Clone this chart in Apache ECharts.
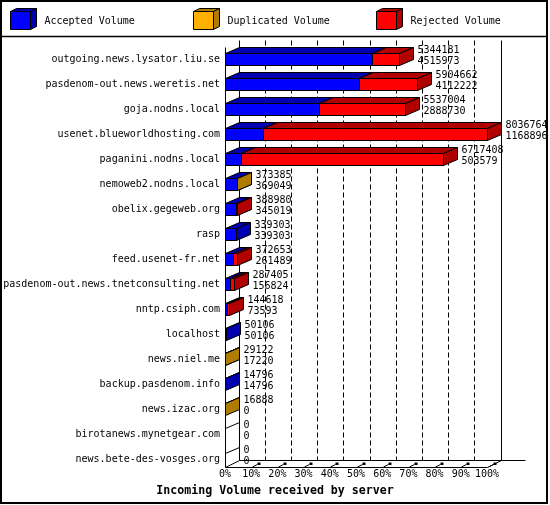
<!DOCTYPE html>
<html><head><meta charset="utf-8">
<script src="https://cdn.jsdelivr.net/npm/echarts@6/dist/echarts.min.js"></script>
<style>html,body{margin:0;padding:0;background:#fff}#c{width:550px;height:505px}</style>
</head><body><div id="c"></div>
<script>
const categories = [
  'outgoing.news.lysator.liu.se','pasdenom-out.news.weretis.net','goja.nodns.local',
  'usenet.blueworldhosting.com','paganini.nodns.local','nemoweb2.nodns.local',
  'obelix.gegeweb.org','rasp','feed.usenet-fr.net','pasdenom-out.news.tnetconsulting.net',
  'nntp.csiph.com','localhost','news.niel.me','backup.pasdenom.info','news.izac.org',
  'birotanews.mynetgear.com','news.bete-des-vosges.org'
];
const accepted   = [4515973,4112222,2888730,1168896,503579,369049,345019,339303,261489,156824,73593,50106,17220,14796,0,0,0];
const duplicated = [0,0,0,0,0,4336,0,0,0,0,0,0,11902,0,16888,0,0];
const rejected   = [828208,1792440,2648274,6867868,6213829,0,43961,0,111164,130581,71025,0,0,0,0,0,0];
const xTicks = [0,10,20,30,40,50,60,70,80,90,100];
const seriesNames = ['Accepted Volume','Duplicated Volume','Rejected Volume'];
const frontColors = ['#0000ff','#ffb000','#ff0000'];
const sideColors  = ['#0000b0','#b07c00','#b00000'];
const titleText = 'Incoming Volume received by server';

const totals = categories.map((c,i)=>accepted[i]+duplicated[i]+rejected[i]);
const maxTotal = Math.max(...totals);
const pct = v => v / maxTotal * 100;

const DX = 14, DY = 6, FDY = 7;
const FAM = '"DejaVu Sans Mono", monospace';
const FONT = '10px ' + FAM;
const cr = v => Math.round(v - 0.5) + 0.5;

function box(x1,x2,yT,yB,front,side,dx,dy){
  const s = {stroke:'#000', lineWidth:1};
  return [
    {type:'polygon', shape:{points:[[x1,yT],[x2,yT],[x2,yB],[x1,yB]]}, style:Object.assign({fill:front}, s)},
    {type:'polygon', shape:{points:[[x1,yT],[x1+dx,yT-dy],[x2+dx,yT-dy],[x2,yT]]}, style:Object.assign({fill:side}, s)},
    {type:'polygon', shape:{points:[[x2,yT],[x2+dx,yT-dy],[x2+dx,yB-dy],[x2,yB]]}, style:Object.assign({fill:side}, s)}
  ];
}

const barData = categories.map((c,i)=>[i, pct(accepted[i]), pct(duplicated[i]), pct(rejected[i])]);

function renderBar(params, api){
  const i = api.value(0);
  const vals = [api.value(1), api.value(2), api.value(3)];
  const c0 = api.coord([0, i]);
  const bh = 12;
  const yT = cr(c0[1] - bh/2), yB = cr(c0[1] + bh/2);
  const children = [];
  let cum = 0, lastEnd = cr(c0[0]), any = false;
  for (let k = 0; k < 3; k++) {
    if (vals[k] > 0) {
      const x1 = cr(api.coord([cum, i])[0]);
      cum += vals[k];
      const x2 = cr(api.coord([cum, i])[0]);
      children.push(...box(x1, x2, yT, yB, frontColors[k], sideColors[k], DX, DY));
      lastEnd = x2; any = true;
    }
  }
  if (!any) {
    children.push({type:'line', shape:{x1:lastEnd, y1:yT, x2:lastEnd+DX, y2:yT-DY}, style:{stroke:'#000', lineWidth:1}});
  }
  children.push({type:'text', z2:10, style:{text: totals[i] + '\n' + accepted[i], x: lastEnd + DX + 4, y: c0[1] - 3.5,
    verticalAlign:'middle', align:'left', font: FONT, lineHeight: 11, fill:'#000'}});
  return {type:'group', children};
}

function renderFrame(params, api){
  const cs = params.coordSys;
  const yFront = cr(cs.y + cs.height - 5);
  const yBack = yFront - FDY;
  const yTopBack = cr(cs.y - 7);
  const yTopFront = cr(cs.y);
  const ch = [];
  const L = (x1,y1,x2,y2,extra) => ch.push({type:'line', shape:{x1,y1,x2,y2}, style:Object.assign({stroke:'#000', lineWidth:1}, extra||{})});
  const x0 = cr(api.coord([xTicks[0], 0])[0]);
  const xEnd = cr(api.coord([xTicks[xTicks.length-1], 0])[0]);
  xTicks.forEach((v, idx) => {
    const xf = cr(api.coord([v, 0])[0]);
    const xb = xf + DX;
    if (idx === 0 || idx === xTicks.length - 1) L(xb, yTopBack, xb, yBack);
    else L(xb, yTopBack, xb, yBack, {lineDash:[5,3]});
    if (idx > 0) {
      L(xf + 1, yFront - 0.5, xf + 6, yFront - 3, {lineWidth:1});
      ch.push({type:'rect', shape:{x: xf + 6, y: yFront - 5, width: 3, height: 2.5}, style:{fill:'#000'}});
    }
  });
  L(x0, yTopFront, x0, yFront);
  L(x0, yFront, xEnd, yFront);
  L(x0, yFront, x0 + DX, yBack);
  L(xEnd, yFront, xEnd + DX, yBack);
  L(x0 + DX, yBack, xEnd + DX + 24, yBack);
  return {type:'group', children: ch};
}

const legendGraphics = [];
const legendX = [10, 193, 376];
seriesNames.forEach((n, k) => {
  const x = legendX[k] + 0.5, yT = 11.5, yB = 29.5, w = 20;
  box(x, x + w, yT, yB, frontColors[k], sideColors[k], 6, 3).forEach(p => legendGraphics.push(p));
  legendGraphics.push({type:'text', style:{text:n, x: x + w + 14, y: 21, verticalAlign:'middle', font: FONT, fill:'#000'}});
});

const chart = echarts.init(document.getElementById('c'), null, {renderer:'canvas'});
chart.setOption({
  animation: false,
  backgroundColor: '#fff',
  title: {text: titleText, left: 'center', top: 485, padding: 0,
    textStyle: {fontFamily: FAM, fontSize: 11.6, fontWeight: 'bold', color: '#000'}},
  graphic: [
    {type:'rect', shape:{x:1, y:1, width:546, height:502}, style:{fill:'none', stroke:'#000', lineWidth:2}, z:100},
    {type:'line', shape:{x1:1, y1:36.5, x2:547, y2:36.5}, style:{stroke:'#000', lineWidth:1.5}, z:100},
    ...legendGraphics
  ],
  grid: {left: 225, top: 47, width: 262, height: 425, containLabel: false},
  xAxis: {type:'value', min: xTicks[0], max: xTicks[xTicks.length-1], interval: 10,
    axisLine:{show:false}, axisTick:{show:false}, splitLine:{show:false},
    axisLabel:{formatter:'{value}%', margin:-3, fontFamily:FAM, fontSize:10, color:'#000'}},
  yAxis: {type:'category', data: categories, inverse: true,
    axisLine:{show:false}, axisTick:{show:false}, splitLine:{show:false},
    axisLabel:{margin:5, fontFamily:FAM, fontSize:10, color:'#000'}},
  series: [
    {type:'custom', name:'frame', data:[[0,0]], renderItem: renderFrame, clip:false, z:1, silent:true,
      encode:{x:0, y:1}},
    {type:'custom', name:'bars', data: barData, renderItem: renderBar, clip:false, z:2,
      dimensions:['cat','acc','dup','rej'], encode:{y:0, x:1}}
  ]
});
</script></body></html>
